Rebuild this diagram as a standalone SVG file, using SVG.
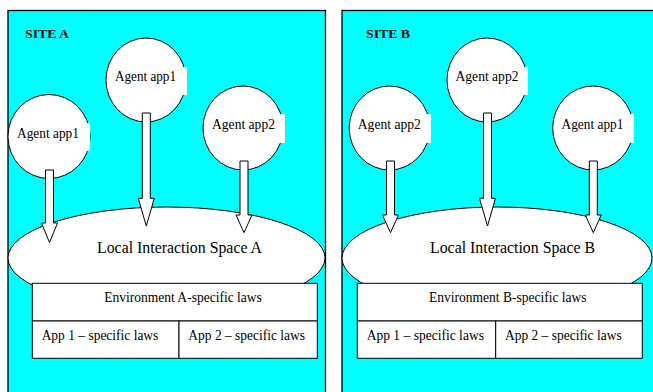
<svg xmlns="http://www.w3.org/2000/svg" width="653" height="392" viewBox="0 0 653 392">
<style>
.panel{fill:#00FFFF;stroke:#000;stroke-width:1.3}
.shape{fill:#fff;stroke:#000;stroke-width:1}
.box{fill:#fff;stroke:none}
.arrow{fill:#fff;stroke:#000;stroke-width:1;stroke-linejoin:miter}
text{font-family:"Liberation Serif","Times New Roman",serif;fill:#000}
.site{font-size:13.5px;font-weight:bold}
.agent{font-size:15px;text-anchor:middle}
.lis{font-size:17.5px;text-anchor:middle}
.law{font-size:14.5px;text-anchor:middle}
</style>
<g id="siteA">
<rect class="panel" x="8" y="10.5" width="317.5" height="400"/>
<text class="site" x="25" y="38" textLength="44" lengthAdjust="spacingAndGlyphs">SITE A</text>
</g>
<g id="siteB">
<rect class="panel" x="342" y="10.5" width="320" height="400"/>
<text class="site" x="366" y="38" textLength="44" lengthAdjust="spacingAndGlyphs">SITE B</text>
</g>
<g id="lisA">
<ellipse class="shape" cx="166.5" cy="258" rx="158.5" ry="51"/>
<text class="lis" x="179.5" y="253" textLength="165" lengthAdjust="spacingAndGlyphs">Local Interaction Space A</text>
</g>
<g id="lisB">
<ellipse class="shape" cx="497" cy="258" rx="155" ry="51"/>
<text class="lis" x="512.5" y="253" textLength="165" lengthAdjust="spacingAndGlyphs">Local Interaction Space B</text>
</g>
<g id="agentA1">
<ellipse class="shape" cx="49" cy="136.5" rx="41" ry="42"/>
<rect class="box" x="14" y="123" width="76" height="28"/>
<text class="agent" x="48" y="138" textLength="62" lengthAdjust="spacingAndGlyphs">Agent app1</text>
</g>
<g id="agentA2">
<ellipse class="shape" cx="146" cy="80" rx="40" ry="42"/>
<rect class="box" x="111" y="67" width="76" height="28"/>
<text class="agent" x="145.5" y="81" textLength="61" lengthAdjust="spacingAndGlyphs">Agent app1</text>
</g>
<g id="agentA3">
<ellipse class="shape" cx="243" cy="128" rx="40" ry="42"/>
<rect class="box" x="209" y="114" width="76" height="29"/>
<text class="agent" x="243.5" y="129" textLength="63" lengthAdjust="spacingAndGlyphs">Agent app2</text>
</g>
<g id="agentB1">
<ellipse class="shape" cx="389.5" cy="128" rx="40.3" ry="42"/>
<rect class="box" x="355" y="114" width="76" height="29"/>
<text class="agent" x="389.3" y="129" textLength="63" lengthAdjust="spacingAndGlyphs">Agent app2</text>
</g>
<g id="agentB2">
<ellipse class="shape" cx="487" cy="80" rx="40" ry="42"/>
<rect class="box" x="452" y="67" width="76" height="28"/>
<text class="agent" x="487" y="81" textLength="63" lengthAdjust="spacingAndGlyphs">Agent app2</text>
</g>
<g id="agentB3">
<ellipse class="shape" cx="593" cy="128" rx="40.3" ry="42"/>
<rect class="box" x="558" y="114" width="76" height="29"/>
<text class="agent" x="592.5" y="129" textLength="62" lengthAdjust="spacingAndGlyphs">Agent app1</text>
</g>
<g id="connectors">
<polygon class="arrow" points="45.5,170 53.5,170 53.5,223 57.5,223 49.5,242.5 41.5,223 45.5,223"/>
<polygon class="arrow" points="142.3,113 150.3,113 150.3,198.3 154.3,198.3 146.3,226 138.3,198.3 142.3,198.3"/>
<polygon class="arrow" points="240,161 248,161 248,215 252,215 244,232.7 236,215 240,215"/>
<polygon class="arrow" points="386.5,161 394.5,161 394.5,215 398.5,215 390.5,232.7 382.5,215 386.5,215"/>
<polygon class="arrow" points="483.5,113 491.5,113 491.5,198.3 495.5,198.3 487.5,226 479.5,198.3 483.5,198.3"/>
<polygon class="arrow" points="589.3,161 597.3,161 597.3,215 601.3,215 593.3,232.7 585.3,215 589.3,215"/>
</g>
<g id="lawsA">
<rect class="shape" x="32.3" y="283.3" width="285" height="37.7"/>
<text class="law" x="183" y="302" textLength="157.7" lengthAdjust="spacingAndGlyphs">Environment A-specific laws</text>
<rect class="shape" x="32.3" y="321" width="146.7" height="37.3"/>
<text class="law" x="100" y="340" textLength="116.7" lengthAdjust="spacingAndGlyphs">App 1 – specific laws</text>
<rect class="shape" x="179" y="321" width="138.3" height="37.3"/>
<text class="law" x="246.7" y="340" textLength="116.7" lengthAdjust="spacingAndGlyphs">App 2 – specific laws</text>
</g>
<g id="lawsB">
<rect class="shape" x="357.3" y="283.3" width="285" height="37.7"/>
<text class="law" x="507.8" y="302" textLength="157.7" lengthAdjust="spacingAndGlyphs">Environment B-specific laws</text>
<rect class="shape" x="357.3" y="321" width="138.4" height="37.3"/>
<text class="law" x="425.3" y="340" textLength="117.3" lengthAdjust="spacingAndGlyphs">App 1 – specific laws</text>
<rect class="shape" x="495.7" y="321" width="146.6" height="37.3"/>
<text class="law" x="563.3" y="340" textLength="116.7" lengthAdjust="spacingAndGlyphs">App 2 – specific laws</text>
</g>
</svg>
